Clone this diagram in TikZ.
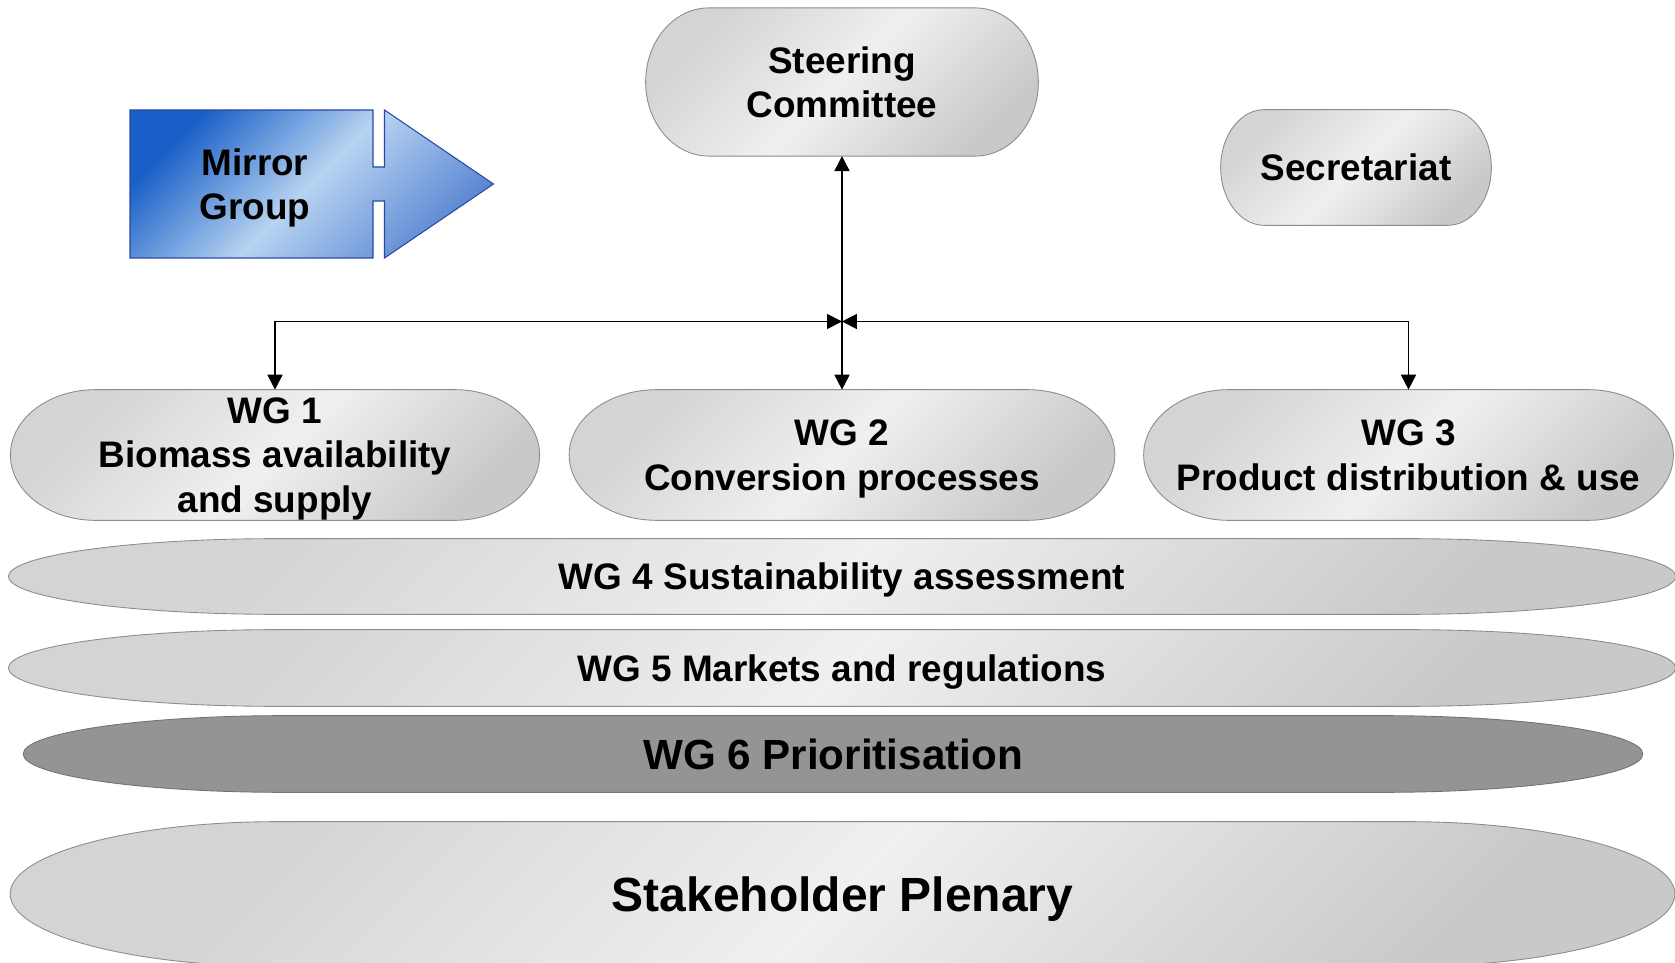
\documentclass[tikz,border=0pt]{standalone}
\usepackage{fontspec}
\setmainfont{Liberation Sans}
\usepackage{xcolor}
\usepackage{tikz}
\usetikzlibrary{arrows.meta}
\usetikzlibrary{calc}
\usetikzlibrary{backgrounds}
\usetikzlibrary{positioning}
\definecolor{mirrordark}{HTML}{1A5FC8}
\definecolor{mirrorlight}{HTML}{B7D3F0}
\definecolor{mirrormid}{HTML}{5A86D2}
\definecolor{mirroredge}{HTML}{2A48A8}
\newcommand{\nodp}[1]{\raisebox{0pt}[\height][0pt]{#1}}
\tikzstyle{line} = [draw, line width=1.1pt, {Triangle[length=8.5pt,width=8.5pt]}-{Triangle[length=8.5pt,width=8.5pt]}]
\tikzset{
    box/.style={inner sep=0pt, align=center, font=\fontsize{21}{25.3}\selectfont\bfseries},
    term/.style={draw=black!45, line width=0.5pt, top color=black!17, bottom color=black!21,
        middle color=black!6, shading angle=45},
    termdark/.style={draw=black!55, line width=0.5pt, fill=black!42},
    mirrorshape/.style={draw=mirroredge, line width=0.6pt, top color=mirrordark,
        bottom color=mirrormid, middle color=mirrorlight, shading angle=45},
}

\begin{document}
\begin{tikzpicture}
\useasboundingbox (0,0) rectangle (33.5,19.24);

% mirror group
\path[mirrorshape] (2.60,17.04) -- (7.46,17.04) -- (7.46,15.90) -- (7.69,15.90) -- (7.69,17.04)
    -- (9.87,15.56) -- (7.69,14.08) -- (7.69,15.22) -- (7.46,15.22) -- (7.46,14.08)
    -- (2.60,14.08) -- cycle;
\node[box] (mirror) at (5.10,15.56) {Mirror\\\nodp{Group}};

% groups
\node[box, minimum width=7.84cm, minimum height=2.95cm] (steer) at (16.84,17.60) {Steering\\\nodp{Committee}};
\node[box, minimum width=5.40cm, minimum height=2.30cm] (sec) at (27.12,15.89) {\nodp{Secretariat}};
\node[box, minimum width=10.57cm, minimum height=2.60cm] (wg1) at (5.50,10.14) {WG 1\\Biomass availability\\\nodp{and supply}};
\node[box, minimum width=10.90cm, minimum height=2.60cm] (wg2) at (16.84,10.14) {WG 2\\\nodp{Conversion processes}};
\node[box, minimum width=10.58cm, minimum height=2.60cm] (wg3) at (28.17,10.14) {WG 3\\\nodp{Product distribution \& use}};
\node[box, minimum width=33.33cm, minimum height=1.50cm] (wg4) at (16.84,7.71) {\nodp{WG 4 Sustainability assessment}};
\node[box, minimum width=33.33cm, minimum height=1.52cm] (wg5) at (16.84,5.88) {\nodp{WG 5 Markets and regulations}};
\node[box, minimum width=32.38cm, minimum height=1.52cm, font=\fontsize{24}{29}\selectfont\bfseries] (wg6) at (16.66,4.16) {\nodp{WG 6 Prioritisation}};
\node[box, minimum width=33.28cm, minimum height=2.88cm, font=\fontsize{27.3}{33}\selectfont\bfseries] (plen) at (16.85,1.36) {\nodp{Stakeholder Plenary}};

% terminator outlines
\begin{pgfonlayer}{background}
  \foreach \s/\sty in {steer/term, sec/term, wg1/term, wg2/term, wg3/term, wg4/term, wg5/term, wg6/termdark, plen/term}
    \path[\sty] let \p1=(\s.south west), \p2=(\s.north east),
        \n1={0.161*(\x2-\x1)}, \n2={0.5*(\y2-\y1)} in
        (\x1+\n1,\y2) -- (\x2-\n1,\y2)
        arc[start angle=90, end angle=-90, x radius=\n1, y radius=\n2]
        -- (\x1+\n1,\y1)
        arc[start angle=270, end angle=90, x radius=\n1, y radius=\n2] -- cycle;
\end{pgfonlayer}

% links
\coordinate (hub) at (16.84,12.81);
\path[line] (wg2.north) -- (steer.south);
\path[line] (hub) -| (wg1.north);
\path[line] (hub) -| (wg3.north);
\end{tikzpicture}
\end{document}
